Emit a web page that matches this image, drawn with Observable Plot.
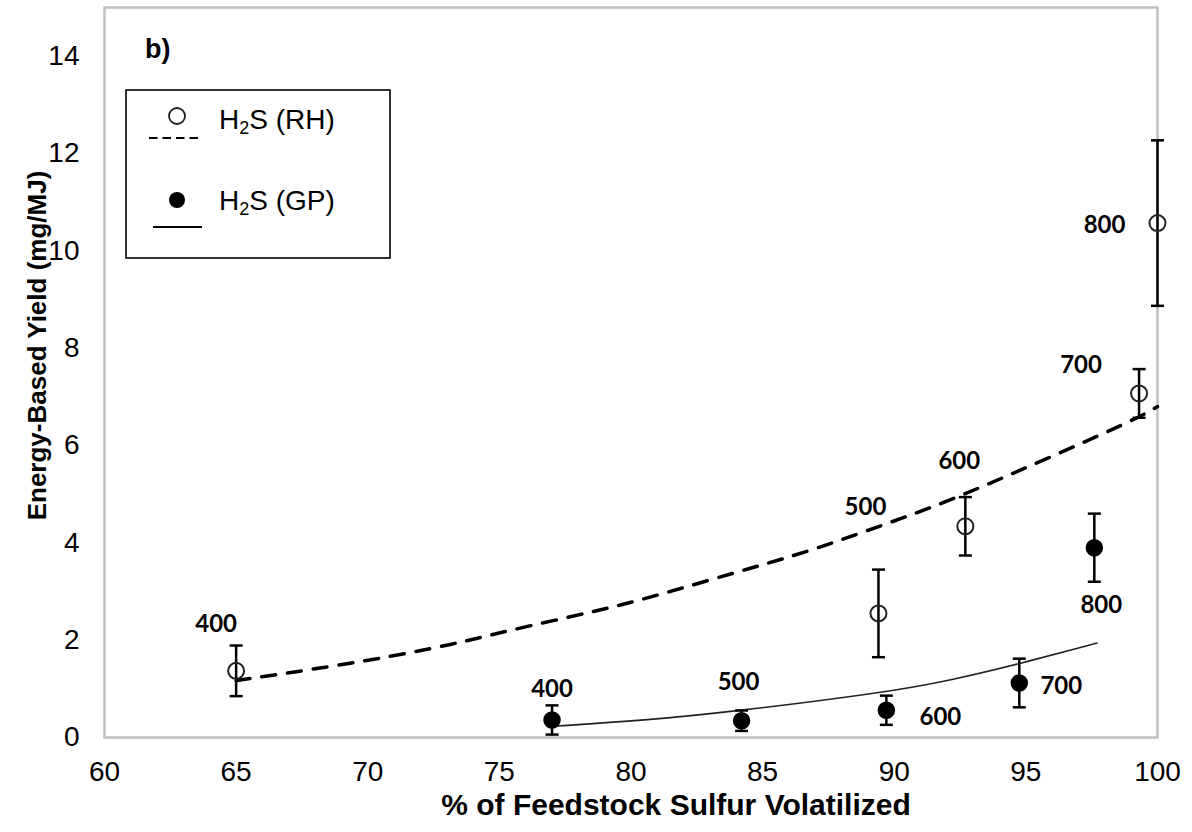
<!DOCTYPE html>
<html><head><meta charset="utf-8">
<script src="https://cdn.jsdelivr.net/npm/d3@7"></script>
<script src="https://cdn.jsdelivr.net/npm/@observablehq/plot@0.6"></script>
<style>body{margin:0;background:#fff}</style>
</head><body><div id="chart"></div>
<script>
// ---- data ----
const rhX   = [65, 89.4, 92.7, 99.3, 100];
const rhY   = [1.37, 2.55, 4.34, 7.07, 10.57];
const rhErr = [0.52, 0.9, 0.6, 0.5, 1.7];
const rhTemp = ["400", "500", "600", "700", "800"];

const gpX   = [77, 84.2, 89.7, 94.75, 97.6];
const gpY   = [0.36, 0.345, 0.56, 1.12, 3.9];
const gpErr = [0.3, 0.21, 0.3, 0.5, 0.7];
const gpTemp = ["400", "500", "600", "700", "800"];

// trend curves
const rhTrendX = [65, 65.9, 70.1, 73.4, 75.1, 78.8, 80.7, 84.9, 86.7, 91, 92.8, 99.1, 100];
const rhTrendY = [1.17, 1.24, 1.58, 1.93, 2.17, 2.61, 2.87, 3.54, 3.81, 4.64, 5.02, 6.51, 6.8];
const gpTrendX = [77, 80.5, 84, 89.7, 92.1, 94.8, 97.7];
const gpTrendY = [0.23, 0.35, 0.54, 0.93, 1.17, 1.52, 1.94];

const xTicks = [60, 65, 70, 75, 80, 85, 90, 95, 100];
const yTicks = [0, 2, 4, 6, 8, 10, 12, 14];

const xTitle = "% of Feedstock Sulfur Volatilized";
const yTitle = "Energy-Based Yield (mg/MJ)";
const panelTag = "b)";
const legendNames = ["(RH)", "(GP)"];

// ---- label offsets (pixels) ----
const rhLabelOffset = [[-20, -47], [-13, -106], [-6, -65], [-58, -28], [-53, 2]];
const gpLabelOffset = [[0, -31], [-3, -38], [54, 7], [42, 3], [7, 58]];

// ---- build tables ----
const rh = rhX.map((x, i) => ({x, y: rhY[i], lo: rhY[i] - rhErr[i], hi: rhY[i] + rhErr[i], t: rhTemp[i]}));
const gp = gpX.map((x, i) => ({x, y: gpY[i], lo: gpY[i] - gpErr[i], hi: gpY[i] + gpErr[i], t: gpTemp[i]}));
const rhTrend = rhTrendX.map((x, i) => ({x, y: rhTrendY[i]}));
const gpTrend = gpTrendX.map((x, i) => ({x, y: gpTrendY[i]}));

const cap = {draw(ctx) { ctx.moveTo(-6.5, 0); ctx.lineTo(6.5, 0); }};
const all = rh.concat(gp);

const labelFont = {fontFamily: "Lato", fontSize: 24, fontWeight: "bold", fill: "#000"};

const marks = [
  Plot.frame({stroke: "#bfbfbf", strokeWidth: 2.5}),
  Plot.axisX({ticks: xTicks, tickSize: 0, tickPadding: 24, fontSize: 28, fontFamily: "Liberation Sans", label: null, color: "#000"}),
  Plot.axisY({ticks: yTicks, tickSize: 0, tickPadding: 25, fontSize: 28, fontFamily: "Liberation Sans", label: null}),
  Plot.line(rhTrend, {x: "x", y: "y", curve: "basis", stroke: "#000", strokeWidth: 3.5, strokeDasharray: "14,12"}),
  Plot.line(gpTrend, {x: "x", y: "y", curve: "basis", stroke: "#222", strokeWidth: 1.6}),
  Plot.ruleX(all, {x: "x", y1: "lo", y2: "hi", stroke: "#000", strokeWidth: 2.5}),
  Plot.dot(all, {x: "x", y: "lo", symbol: cap, stroke: "#000", strokeWidth: 2.5, fill: "none", r: 5}),
  Plot.dot(all, {x: "x", y: "hi", symbol: cap, stroke: "#000", strokeWidth: 2.5, fill: "none", r: 5}),
  Plot.dot(rh, {x: "x", y: "y", r: 8, stroke: "#222", strokeWidth: 2, fill: "none"}),
  Plot.dot(gp, {x: "x", y: "y", r: 8, fill: "#000", stroke: "#000"}),
  ...rh.map((d, i) => Plot.text([d], {x: "x", y: "y", text: "t", dx: rhLabelOffset[i][0], dy: rhLabelOffset[i][1], ...labelFont})),
  ...gp.map((d, i) => Plot.text([d], {x: "x", y: "y", text: "t", dx: gpLabelOffset[i][0], dy: gpLabelOffset[i][1], ...labelFont})),
  Plot.text([xTitle], {frameAnchor: "bottom", lineAnchor: "middle", textAnchor: "middle", dy: 68, dx: 45, fontSize: 30, fontWeight: "bold", fontFamily: "Liberation Sans", fill: "#000"}),
  Plot.text([yTitle], {frameAnchor: "left", lineAnchor: "middle", textAnchor: "middle", rotate: -90, dx: -67, dy: -27, fontSize: 26, fontWeight: "bold", fontFamily: "Liberation Sans", fill: "#000"})
];

const chart = Plot.plot({
  width: 1192, height: 832,
  marginLeft: 104, marginRight: 35, marginTop: 7, marginBottom: 95,
  x: {domain: [60, 100]},
  y: {domain: [0, 15]},
  style: {fontFamily: "Liberation Sans", color: "#000", background: "#fff"},
  marks
});
document.getElementById("chart").appendChild(chart);

// ---- legend box and panel tag ----
const svg = d3.select(chart);
svg.append("text").attr("x", 145).attr("y", 58).attr("font-family", "Liberation Sans").attr("text-anchor", "start")
  .attr("font-size", 27).attr("font-weight", "bold").attr("fill", "#000").text(panelTag);
const lg = svg.append("g");
lg.append("rect").attr("x", 126).attr("y", 90).attr("width", 264).attr("height", 168)
  .attr("fill", "#fff").attr("stroke", "#000").attr("stroke-width", 1.6);
lg.append("circle").attr("cx", 177).attr("cy", 116).attr("r", 8).attr("fill", "none").attr("stroke", "#222").attr("stroke-width", 1.8);
lg.append("line").attr("x1", 149).attr("x2", 199).attr("y1", 138).attr("y2", 138)
  .attr("stroke", "#000").attr("stroke-width", 2.2).attr("stroke-dasharray", "8.5,5");
lg.append("circle").attr("cx", 177).attr("cy", 200).attr("r", 8).attr("fill", "#000");
lg.append("line").attr("x1", 153).attr("x2", 202).attr("y1", 227).attr("y2", 227)
  .attr("stroke", "#000").attr("stroke-width", 2);
[[129, legendNames[0]], [210, legendNames[1]]].forEach(([y, name]) => {
  const t = lg.append("text").attr("x", 219).attr("y", y).attr("font-family", "Liberation Sans")
    .attr("text-anchor", "start").attr("font-size", 28).attr("fill", "#000");
  t.append("tspan").text("H");
  t.append("tspan").attr("font-size", 18).attr("dy", 5).text("2");
  t.append("tspan").attr("dy", -5).text("S " + name);
});
</script></body></html>
